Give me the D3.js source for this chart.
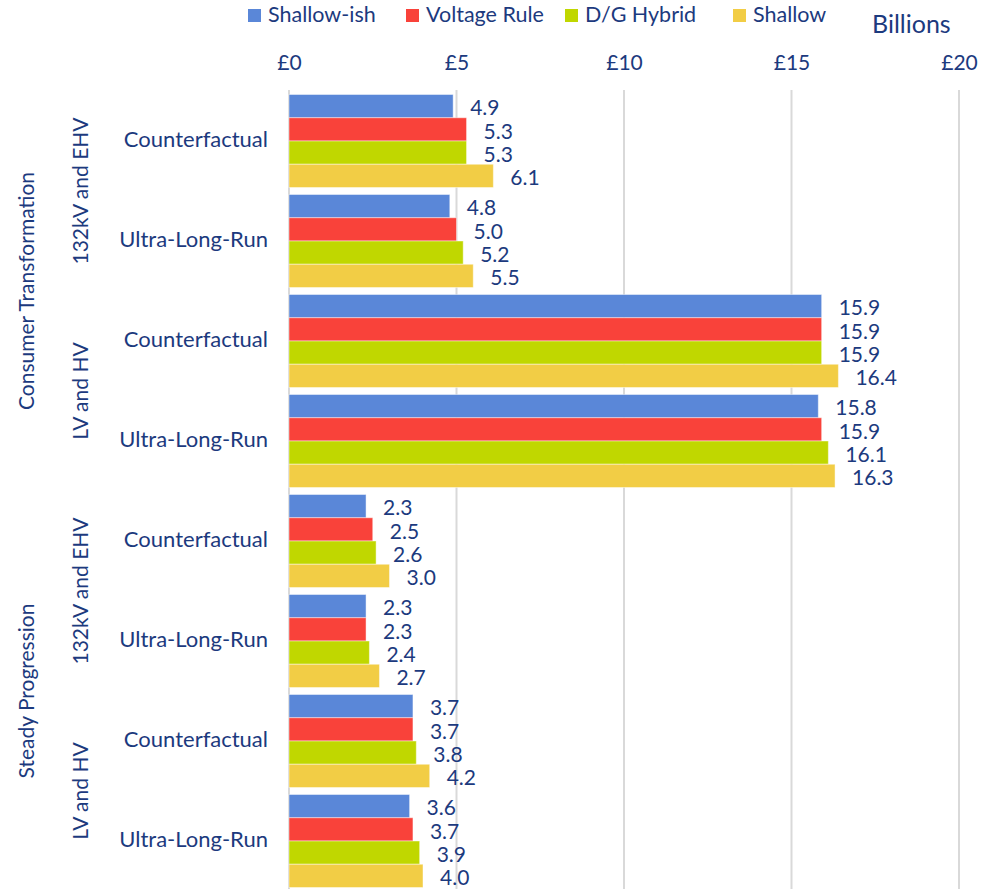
<!DOCTYPE html>
<html>
<head>
<meta charset="utf-8">
<script src="https://cdn.jsdelivr.net/npm/d3@7"></script>
<style>
  html, body { margin: 0; padding: 0; background: #fff; }
  svg text { font-family: Lato, "Open Sans", sans-serif; fill: #1C3A7E; }
</style>
</head>
<body>
<svg id="chart" width="981" height="889"></svg>
<script>
// Network cost scenarios (£ billions)
const scenarios = ["Consumer Transformation", "Steady Progression"];
const voltageLevels = ["132kV and EHV", "LV and HV"];
const cases = ["Counterfactual", "Ultra-Long-Run"];
const seriesNames = ["Shallow-ish", "Voltage Rule", "D/G Hybrid", "Shallow"];
const seriesColors = ["#5A87D8", "#F9423A", "#C0D700", "#F2CD45"];

// one value per row (scenario / voltage / case), in row order
const shallowish  = [4.9, 4.8, 15.9, 15.8, 2.3, 2.3, 3.7, 3.6];
const voltageRule = [5.3, 5.0, 15.9, 15.9, 2.5, 2.3, 3.7, 3.7];
const dgHybrid    = [5.3, 5.2, 15.9, 16.1, 2.6, 2.4, 3.8, 3.9];
const shallow     = [6.1, 5.5, 16.4, 16.3, 3.0, 2.7, 4.2, 4.0];
const tickValues  = [0, 5, 10, 15, 20];

const series = [shallowish, voltageRule, dgHybrid, shallow];

const rows = [];
scenarios.forEach(s => voltageLevels.forEach(v => cases.forEach(c => rows.push({ s, v, c }))));
rows.forEach((r, i) => { r.key = i; r.values = series.map(arr => arr[i]); });

const svg = d3.select("#chart");

const x = d3.scaleLinear().domain([0, 20]).range([289, 959]);
const y = d3.scaleBand().domain(rows.map(r => r.key)).range([91, 891])
  .paddingInner(0.07).paddingOuter(0.035);
const ySub = d3.scaleBand().domain(d3.range(seriesNames.length)).range([0, y.bandwidth()]);

// gridlines
svg.append("g").selectAll("line").data(tickValues).join("line")
  .attr("x1", d => x(d)).attr("x2", d => x(d))
  .attr("y1", 90).attr("y2", 889)
  .attr("stroke", "#D9D9D9").attr("stroke-width", 2);

// top axis labels
const axis = d3.axisTop(x).tickValues(tickValues).tickFormat(d => "£" + d).tickSize(0).tickPadding(0);
const gAxis = svg.append("g").attr("transform", "translate(0,70)").call(axis);
gAxis.select(".domain").remove();
gAxis.selectAll("text").attr("font-size", 21).attr("font-family", null).attr("fill", null);

// bars
const groups = svg.append("g").selectAll("g").data(rows).join("g")
  .attr("transform", d => `translate(0,${y(d.key)})`);

groups.selectAll("rect").data(d => d.values.map((v, i) => ({ v, i }))).join("rect")
  .attr("x", x(0))
  .attr("y", d => ySub(d.i))
  .attr("width", d => x(d.v) - x(0))
  .attr("height", ySub.bandwidth())
  .attr("fill", d => seriesColors[d.i])
  .attr("stroke", "rgba(255,255,255,0.45)")
  .attr("stroke-width", 1);

groups.selectAll("text.val").data(d => d.values.map((v, i) => ({ v, i }))).join("text")
  .attr("class", "val")
  .attr("x", d => x(d.v) + 17)
  .attr("y", d => ySub(d.i) + ySub.bandwidth() / 2 + 4)
  .attr("dominant-baseline", "middle")
  .attr("font-size", 21)
  .text(d => d.v.toFixed(1));

// case labels
svg.append("g").selectAll("text").data(rows).join("text")
  .attr("x", 268)
  .attr("y", d => y(d.key) + y.bandwidth() / 2)
  .attr("text-anchor", "end")
  .attr("dominant-baseline", "middle")
  .attr("font-size", 22)
  .text(d => d.c);

// voltage level labels (rotated)
const voltGroups = [];
scenarios.forEach(s => voltageLevels.forEach(v => {
  const ks = rows.filter(r => r.s === s && r.v === v).map(r => r.key);
  voltGroups.push({ label: v, y0: y(ks[0]), y1: y(ks[ks.length - 1]) + y.bandwidth() });
}));
svg.append("g").selectAll("text").data(voltGroups).join("text")
  .attr("transform", d => `translate(83,${(d.y0 + d.y1) / 2}) rotate(-90)`)
  .attr("text-anchor", "middle")
  .attr("dominant-baseline", "middle")
  .attr("font-size", 21)
  .text(d => d.label);

// scenario labels (rotated)
const scenGroups = scenarios.map(s => {
  const ks = rows.filter(r => r.s === s).map(r => r.key);
  return { label: s, y0: y(ks[0]), y1: y(ks[ks.length - 1]) + y.bandwidth() };
});
svg.append("g").selectAll("text").data(scenGroups).join("text")
  .attr("transform", d => `translate(29,${(d.y0 + d.y1) / 2}) rotate(-90)`)
  .attr("text-anchor", "middle")
  .attr("dominant-baseline", "middle")
  .attr("font-size", 21)
  .text(d => d.label);

// legend
const legendX = [248, 406, 565, 733];
const legend = svg.append("g").selectAll("g").data(seriesNames).join("g")
  .attr("transform", (d, i) => `translate(${legendX[i]},0)`);
legend.append("rect").attr("x", 0).attr("y", 9).attr("width", 13).attr("height", 13)
  .attr("fill", (d, i) => seriesColors[i]);
legend.append("text").attr("x", 20).attr("y", 17)
  .attr("dominant-baseline", "middle").attr("font-size", 21.5).text(d => d);

// units
svg.append("text").attr("x", 872).attr("y", 33).attr("font-size", 25).text("Billions");
</script>
</body>
</html>
